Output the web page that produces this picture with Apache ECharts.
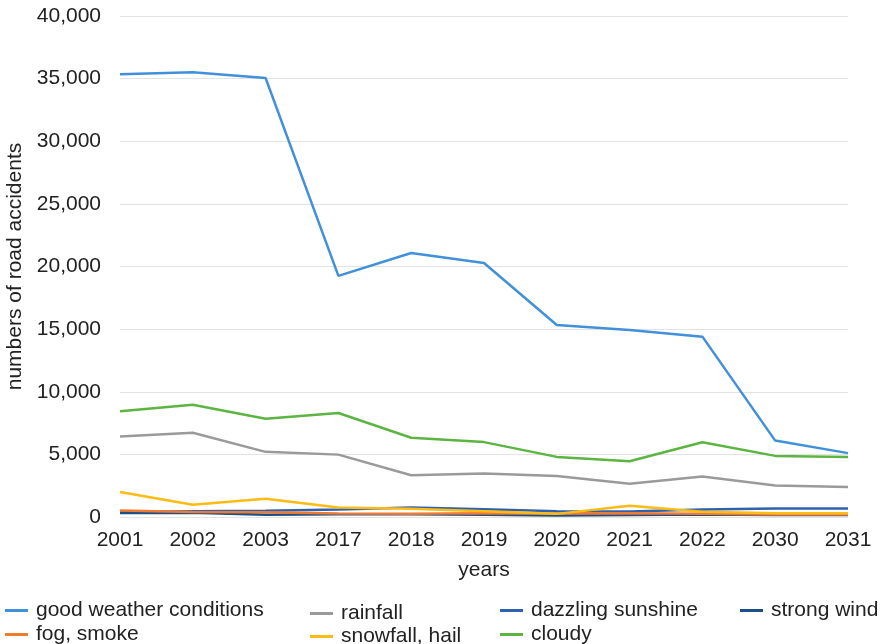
<!DOCTYPE html>
<html>
<head>
<meta charset="utf-8">
<script src="https://cdn.jsdelivr.net/npm/echarts@6/dist/echarts.min.js"></script>
<style>
  html, body { margin: 0; padding: 0; background: #fff; }
  #chart { width: 881px; height: 644px; }
</style>
</head>
<body>
<div id="chart"></div>
<script>
// Road accidents by weather condition
const years = ['2001', '2002', '2003', '2017', '2018', '2019', '2020', '2021', '2022', '2030', '2031'];

const goodWeather = [35350, 35500, 35050, 19250, 21080, 20280, 15330, 14930, 14400, 6100, 5100];
const rainfall    = [6420, 6720, 5200, 4980, 3330, 3480, 3280, 2650, 3230, 2520, 2400];
const sunshine    = [400, 450, 500, 600, 750, 620, 450, 430, 600, 680, 680];
const strongWind  = [320, 330, 180, 220, 220, 180, 120, 150, 200, 150, 150];
const fogSmoke    = [520, 400, 380, 280, 260, 300, 280, 300, 260, 200, 200];
const snowfall    = [2000, 980, 1460, 750, 650, 450, 250, 900, 420, 300, 300];
const cloudy      = [8450, 8970, 7850, 8300, 6330, 5980, 4800, 4450, 5970, 4880, 4800];

const yTicks = { min: 0, max: 40000, step: 5000 };

const seriesDefs = [
  { name: 'good weather conditions', data: goodWeather, color: '#4190d8' },
  { name: 'rainfall',                data: rainfall,    color: '#9a9a9a' },
  { name: 'dazzling sunshine',       data: sunshine,    color: '#2f62ad' },
  { name: 'strong wind',             data: strongWind,  color: '#1c4f85' },
  { name: 'fog, smoke',              data: fogSmoke,    color: '#f07a30' },
  { name: 'snowfall, hail',          data: snowfall,    color: '#fdbb16' },
  { name: 'cloudy',                  data: cloudy,      color: '#5cb442' }
];

// legend grid: four columns, two rows
const legendPos = [
  { left: 5,   top: 600 },
  { left: 310, top: 603 },
  { left: 500, top: 600 },
  { left: 740, top: 600 },
  { left: 5,   top: 624 },
  { left: 310, top: 626 },
  { left: 500, top: 624 }
];

const font = 'Arial, "Liberation Sans", Helvetica, sans-serif';
const fs = 21;
const ink = '#222';

const chart = echarts.init(document.getElementById('chart'), null, { renderer: 'canvas' });

chart.setOption({
  animation: false,
  backgroundColor: '#ffffff',
  textStyle: { fontFamily: font },
  grid: { left: 120, right: 33, top: 16, bottom: 127, containLabel: false, outerBoundsMode: 'none' },
  legend: seriesDefs.map((s, i) => ({
    data: [s.name],
    left: legendPos[i].left,
    top: legendPos[i].top,
    padding: 0,
    icon: 'rect',
    itemWidth: 23,
    itemHeight: 3,
    selectedMode: false,
    textStyle: { fontSize: fs, color: ink, fontFamily: font, padding: [0, 0, 0, 3] }
  })),
  xAxis: {
    type: 'category',
    data: years,
    boundaryGap: false,
    name: 'years',
    nameLocation: 'middle',
    nameGap: 43,
    nameTextStyle: { fontSize: fs, color: ink, fontFamily: font },
    axisLine: { show: false },
    axisTick: { show: false },
    axisLabel: { fontSize: fs, color: ink, margin: 13, fontFamily: font },
    splitLine: { show: false }
  },
  yAxis: {
    type: 'value',
    min: yTicks.min,
    max: yTicks.max,
    interval: yTicks.step,
    name: 'numbers of road accidents',
    nameLocation: 'middle',
    nameGap: 92,
    nameTextStyle: { fontSize: fs, color: ink, fontFamily: font },
    axisLine: { show: false },
    axisTick: { show: false },
    axisLabel: {
      fontSize: fs, color: ink, margin: 19, fontFamily: font,
      formatter: v => v.toLocaleString('en-US')
    },
    splitLine: { show: true, lineStyle: { color: '#e3e3e3', width: 1 } }
  },
  series: seriesDefs.map(s => ({
    name: s.name,
    type: 'line',
    data: s.data,
    symbol: 'none',
    smooth: false,
    color: s.color,
    lineStyle: { width: 2.5, color: s.color }
  }))
});
</script>
</body>
</html>
